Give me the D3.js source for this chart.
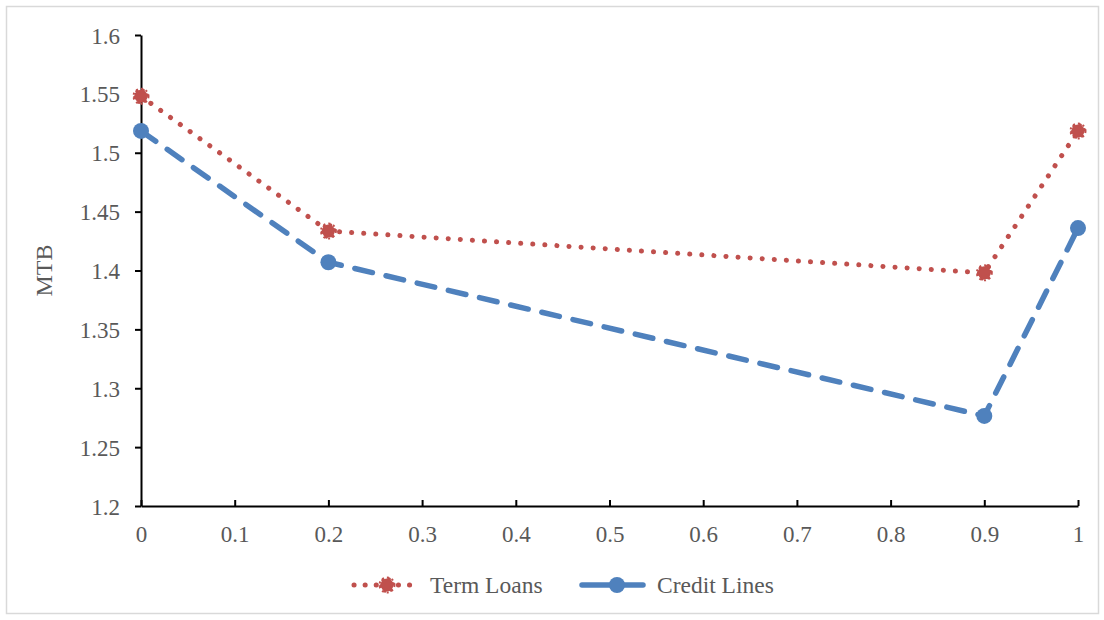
<!DOCTYPE html>
<html>
<head>
<meta charset="utf-8">
<script src="https://cdn.jsdelivr.net/npm/d3@7"></script>
<style>
  html, body { margin: 0; padding: 0; background: #fff; }
  svg { display: block; }
  svg text { font-family: "Liberation Serif", "Times New Roman", serif !important; fill: #595959; }
</style>
</head>
<body>
<svg id="chart" width="1104" height="620"></svg>
<script>
// Share of term loans in debt structure (x) vs. market-to-book ratio
const xValues = [0, 0.2, 0.9, 1];
const termLoans = [1.548, 1.4335, 1.398, 1.5185];
const creditLines = [1.5185, 1.407, 1.2765, 1.436];
const seriesNames = ["Term Loans", "Credit Lines"];
const xTicks = [0, 0.1, 0.2, 0.3, 0.4, 0.5, 0.6, 0.7, 0.8, 0.9, 1];
const yTicks = [1.2, 1.25, 1.3, 1.35, 1.4, 1.45, 1.5, 1.55, 1.6];
const yLabel = "MTB";

const red = "#C0504D", blue = "#4F81BD";
const svg = d3.select("#chart");

// outer frame
svg.append("rect").attr("x", 6.5).attr("y", 6.5).attr("width", 1092).attr("height", 607)
  .attr("fill", "#fff").attr("stroke", "#d9d9d9").attr("stroke-width", 1.5);

const x = d3.scaleLinear().domain([0, 1]).range([141, 1078]);
const y = d3.scaleLinear().domain([1.2, 1.6]).range([506, 35]);

// y axis: ticks outward
const yAxis = svg.append("g").attr("transform", `translate(${x(0)},0)`)
  .call(d3.axisLeft(y).tickValues(yTicks).tickSize(6).tickSizeOuter(0).tickFormat(d => String(+d.toFixed(2))));
yAxis.attr("font-family", null).attr("font-size", null);
yAxis.select(".domain").attr("stroke", "#000").attr("stroke-width", 2);
yAxis.selectAll(".tick line").attr("stroke", "#000").attr("stroke-width", 2);
yAxis.selectAll(".tick text").attr("x", -21).attr("dy", "0.35em").style("font-size", "23px").attr("fill", "#595959");

// x axis: ticks inward
const xAxis = svg.append("g").attr("transform", `translate(0,${y(1.2)})`)
  .call(d3.axisBottom(x).tickValues(xTicks).tickSize(-6).tickSizeOuter(0).tickFormat(d => String(+d.toFixed(1))));
xAxis.attr("font-family", null).attr("font-size", null);
xAxis.select(".domain").attr("stroke", "#000").attr("stroke-width", 2);
xAxis.selectAll(".tick text").attr("y", 20).style("font-size", "23px").attr("fill", "#595959");
xAxis.selectAll(".tick line").attr("stroke", "#000").attr("stroke-width", 2);

// y label
svg.append("text").attr("transform", `translate(52,${y(1.4)}) rotate(-90)`)
  .attr("text-anchor", "middle").style("font-size", "24px").text(yLabel);

const line = d3.line().x(d => x(d[0])).y(d => y(d[1]));
const tlData = xValues.map((v, i) => [v, termLoans[i]]);
const clData = xValues.map((v, i) => [v, creditLines[i]]);

svg.append("path").datum(clData).attr("d", line).attr("fill", "none")
  .attr("stroke", blue).attr("stroke-width", 5.5).attr("stroke-linecap", "round")
  .attr("stroke-dasharray", "18 14");
svg.append("path").datum(tlData).attr("d", line).attr("fill", "none")
  .attr("stroke", red).attr("stroke-width", 5).attr("stroke-linecap", "round")
  .attr("stroke-dasharray", "0.1 12");

// star-shaped blob marker with a dotted rim
function starMarker(g, cx, cy) {
  const m = g.append("g").attr("transform", `translate(${cx},${cy})`);
  m.append("circle").attr("r", 6.5).attr("fill", red);
  m.append("path").attr("d", d3.symbol().type(d3.symbolAsterisk).size(110)())
    .attr("fill", "none").attr("stroke", red).attr("stroke-width", 3.5).attr("stroke-linecap", "round")
    .attr("transform", "rotate(20)");
  m.append("circle").attr("r", 7.5).attr("fill", "none").attr("stroke", red)
    .attr("stroke-width", 2).attr("stroke-dasharray", "2 3");
}
function circleMarker(g, cx, cy) {
  g.append("circle").attr("cx", cx).attr("cy", cy).attr("r", 8).attr("fill", blue);
}

const marks = svg.append("g");
clData.forEach(d => circleMarker(marks, x(d[0]), y(d[1])));
tlData.forEach(d => starMarker(marks, x(d[0]), y(d[1])));

// legend
const leg = svg.append("g");
const ly = 585;
leg.append("line").attr("x1", 354).attr("x2", 420).attr("y1", ly).attr("y2", ly)
  .attr("stroke", red).attr("stroke-width", 5).attr("stroke-linecap", "round").attr("stroke-dasharray", "0.1 11");
starMarker(leg, 387, ly);
leg.append("text").attr("x", 430).attr("y", ly + 8).style("font-size", "23.5px").text(seriesNames[0]);

leg.append("line").attr("x1", 582).attr("x2", 643).attr("y1", ly).attr("y2", ly)
  .attr("stroke", blue).attr("stroke-width", 5.5).attr("stroke-linecap", "round");
circleMarker(leg, 617, ly);
leg.append("text").attr("x", 657).attr("y", ly + 8).style("font-size", "23.5px").text(seriesNames[1]);
</script>
</body>
</html>
